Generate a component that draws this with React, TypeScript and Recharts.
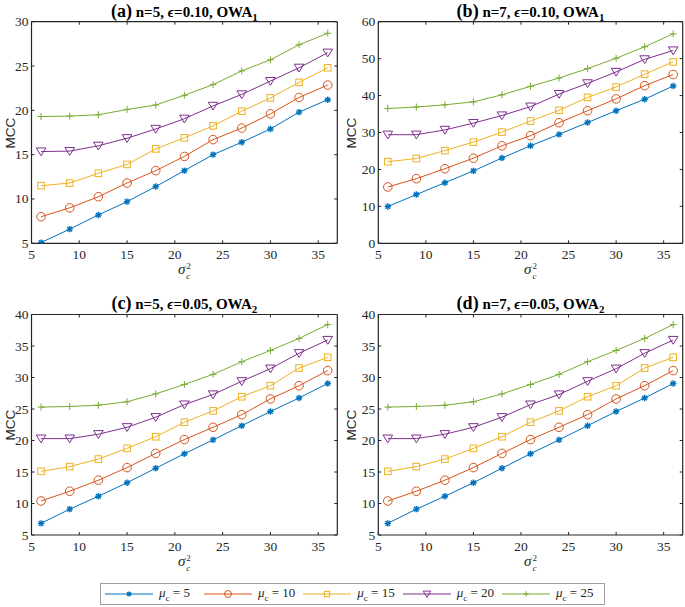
import React from 'react';
import { LineChart, Line, XAxis, YAxis } from 'recharts';

const SIGMA_C2 = [6, 9, 12, 15, 18, 21, 24, 27, 30, 33, 36];
const X_TICKS = [5, 10, 15, 20, 25, 30, 35];
const MU_LABELS = ['5', '10', '15', '20', '25'];

// Panel (a): n=5, eps=0.10, OWA1
const A_MU5 = [5.08, 6.6, 8.2, 9.7, 11.4, 13.2, 15.0, 16.4, 17.9, 19.8, 21.2];
const A_MU10 = [8.0, 9.0, 10.25, 11.8, 13.2, 14.8, 16.7, 18.0, 19.6, 21.45, 22.85];
const A_MU15 = [11.5, 11.8, 12.9, 13.9, 15.65, 16.9, 18.25, 19.9, 21.4, 23.15, 24.8];
const A_MU20 = [15.35, 15.4, 16.0, 16.85, 17.9, 19.05, 20.5, 21.8, 23.3, 24.8, 26.5];
const A_MU25 = [19.3, 19.35, 19.5, 20.1, 20.6, 21.7, 22.9, 24.45, 25.7, 27.4, 28.7];

// Panel (b): n=7, eps=0.10, OWA1
const B_MU5 = [9.95, 13.2, 16.4, 19.6, 23.1, 26.4, 29.5, 32.7, 35.9, 39.0, 42.6];
const B_MU10 = [15.25, 17.5, 20.2, 23.05, 26.4, 29.15, 32.65, 35.9, 39.1, 42.7, 45.7];
const B_MU15 = [22.1, 22.95, 25.1, 27.4, 30.1, 33.1, 36.0, 39.5, 42.3, 45.8, 49.1];
const B_MU20 = [29.4, 29.4, 30.7, 32.55, 34.6, 37.0, 40.4, 43.3, 46.4, 49.8, 52.2];
const B_MU25 = [36.5, 36.9, 37.5, 38.3, 40.2, 42.5, 44.75, 47.3, 50.1, 53.2, 56.7];

// Panel (c): n=5, eps=0.05, OWA2
const C_MU5 = [6.85, 9.1, 11.15, 13.3, 15.6, 17.9, 20.1, 22.35, 24.6, 26.75, 29.05];
const C_MU10 = [10.4, 11.95, 13.7, 15.7, 17.95, 20.15, 22.1, 24.1, 26.6, 28.7, 31.1];
const C_MU15 = [15.1, 15.85, 17.05, 18.75, 20.6, 22.9, 24.7, 26.95, 28.7, 31.5, 33.2];
const C_MU20 = [20.3, 20.3, 21.0, 22.1, 23.7, 25.7, 27.3, 29.4, 31.4, 33.85, 35.95];
const C_MU25 = [25.3, 25.4, 25.6, 26.15, 27.4, 28.9, 30.5, 32.5, 34.3, 36.2, 38.4];

// Panel (d): n=7, eps=0.05, OWA2
const D_MU5 = [6.85, 9.1, 11.15, 13.3, 15.6, 17.9, 20.1, 22.35, 24.6, 26.75, 29.05];
const D_MU10 = [10.4, 11.95, 13.7, 15.7, 17.95, 20.15, 22.1, 24.1, 26.6, 28.7, 31.1];
const D_MU15 = [15.1, 15.85, 17.05, 18.75, 20.6, 22.9, 24.7, 26.95, 28.7, 31.5, 33.2];
const D_MU20 = [20.3, 20.3, 21.0, 22.1, 23.7, 25.7, 27.3, 29.4, 31.4, 33.85, 35.95];
const D_MU25 = [25.3, 25.4, 25.6, 26.15, 27.4, 28.9, 30.5, 32.5, 34.3, 36.2, 38.4];

const A_Y_TICKS = [5, 10, 15, 20, 25, 30];
const B_Y_TICKS = [0, 10, 20, 30, 40, 50, 60];
const C_Y_TICKS = [5, 10, 15, 20, 25, 30, 35, 40];

const SERIES = [
  { key: 'm5', color: '#0072BD', marker: 'star' },
  { key: 'm10', color: '#D95319', marker: 'circle' },
  { key: 'm15', color: '#EDB120', marker: 'square' },
  { key: 'm20', color: '#7E2F8E', marker: 'tri' },
  { key: 'm25', color: '#77AC30', marker: 'plus' },
];

const AXIS = '#262626';
const SERIF = '"Liberation Serif", "Times New Roman", serif';

function buildRows(cols: number[][]) {
  return SIGMA_C2.map((s, i) => ({
    s,
    m5: cols[0][i],
    m10: cols[1][i],
    m15: cols[2][i],
    m20: cols[3][i],
    m25: cols[4][i],
  }));
}

function Marker({ type, cx, cy, color, k = 1 }: { type: string; cx: number; cy: number; color: string; k?: number }) {
  if (cx == null || cy == null) return <g />;
  switch (type) {
    case 'star': {
      const r = 3.2 * k;
      const d = r * 0.72;
      return (
        <g stroke={color} strokeWidth={1.4}>
          <line x1={cx - r} y1={cy} x2={cx + r} y2={cy} />
          <line x1={cx} y1={cy - r} x2={cx} y2={cy + r} />
          <line x1={cx - d} y1={cy - d} x2={cx + d} y2={cy + d} />
          <line x1={cx - d} y1={cy + d} x2={cx + d} y2={cy - d} />
        </g>
      );
    }
    case 'circle':
      return <circle cx={cx} cy={cy} r={4.3 * k} fill="none" stroke={color} strokeWidth={1} />;
    case 'square': {
      const h = 3.3 * k;
      return <rect x={cx - h} y={cy - h} width={2 * h} height={2 * h} fill="none" stroke={color} strokeWidth={1} />;
    }
    case 'tri':
      return (
        <polygon
          points={`${cx - 4.8 * k},${cy - 3.6 * k} ${cx + 4.8 * k},${cy - 3.6 * k} ${cx},${cy + 4.2 * k}`}
          fill="none"
          stroke={color}
          strokeWidth={1}
        />
      );
    case 'plus':
    default: {
      const r = 3.5 * k;
      return (
        <g stroke={color} strokeWidth={1}>
          <line x1={cx - r} y1={cy} x2={cx + r} y2={cy} />
          <line x1={cx} y1={cy - r} x2={cx} y2={cy + r} />
        </g>
      );
    }
  }
}

const BottomTick = (props: any) => {
  const { x, y, payload } = props;
  return (
    <g>
      <line x1={x} x2={x} y1={y} y2={y - 3} stroke={AXIS} strokeWidth={1} />
      <text x={x} y={y + 16} textAnchor="middle" fontFamily={SERIF} fontSize={13.5} fill={AXIS}>
        {payload.value}
      </text>
    </g>
  );
};
const TopTick = (props: any) => {
  const { x, y } = props;
  return <line x1={x} x2={x} y1={y} y2={y + 3} stroke={AXIS} strokeWidth={1} />;
};
const LeftTick = (props: any) => {
  const { x, y, payload } = props;
  return (
    <g>
      <line x1={x} x2={x + 3} y1={y} y2={y} stroke={AXIS} strokeWidth={1} />
      <text x={x - 3} y={y + 4.5} textAnchor="end" fontFamily={SERIF} fontSize={13.5} fill={AXIS}>
        {payload.value}
      </text>
    </g>
  );
};
const RightTick = (props: any) => {
  const { x, y } = props;
  return <line x1={x} x2={x - 3} y1={y} y2={y} stroke={AXIS} strokeWidth={1} />;
};

type PanelProps = {
  x: number; y: number; w: number; h: number;
  pl: number; pt: number; pr: number; pb: number;
  data: any[]; yDomain: [number, number]; yTicks: number[];
  letter: string; n: number; eps: string; sub: string; mccX: number;
};

function Panel(p: PanelProps) {
  const margin = {
    top: p.pt - p.y - 1,
    left: p.pl - p.x - 1,
    right: p.x + p.w - p.pr - 1,
    bottom: p.y + p.h - p.pb - 1,
  };
  const plotW = p.pr - p.pl;
  return (
    <>
      <div style={{ position: 'absolute', left: p.x, top: p.y, width: p.w, height: p.h }}>
        <LineChart width={p.w} height={p.h} data={p.data} margin={margin}>
          <XAxis
            xAxisId="b" dataKey="s" type="number" domain={[5, 37]} ticks={X_TICKS}
            orientation="bottom" height={1} tickSize={0} tickMargin={0} tickLine={false}
            axisLine={{ stroke: AXIS, strokeWidth: 1.2 }} tick={<BottomTick />} interval={0} allowDataOverflow
          />
          <XAxis
            xAxisId="t" dataKey="s" type="number" domain={[5, 37]} ticks={X_TICKS}
            orientation="top" height={1} tickSize={0} tickMargin={0} tickLine={false}
            axisLine={{ stroke: AXIS, strokeWidth: 1.2 }} tick={<TopTick />} interval={0} allowDataOverflow
          />
          <YAxis
            yAxisId="l" type="number" domain={p.yDomain} ticks={p.yTicks} orientation="left"
            width={1} tickSize={0} tickMargin={0} tickLine={false}
            axisLine={{ stroke: AXIS, strokeWidth: 1.2 }} tick={<LeftTick />} interval={0} allowDataOverflow
          />
          <YAxis
            yAxisId="r" type="number" domain={p.yDomain} ticks={p.yTicks} orientation="right"
            width={1} tickSize={0} tickMargin={0} tickLine={false}
            axisLine={{ stroke: AXIS, strokeWidth: 1.2 }} tick={<RightTick />} interval={0} allowDataOverflow
          />
          {SERIES.map((s) => (
            <Line
              key={s.key}
              xAxisId="b"
              yAxisId="l"
              dataKey={s.key}
              stroke={s.color}
              strokeWidth={1}
              isAnimationActive={false}
              activeDot={false}
              dot={(dp: any) => (
                <Marker key={`${s.key}-${dp.index}`} type={s.marker} cx={dp.cx} cy={dp.cy} color={s.color} />
              )}
            />
          ))}
        </LineChart>
      </div>
      <div
        style={{
          position: 'absolute', left: p.pl - 20, top: Math.max(1, p.pt - 22), width: plotW + 40, height: 20, lineHeight: '20px',
          textAlign: 'center', fontFamily: SERIF, fontWeight: 'bold', fontSize: 15, color: '#000', whiteSpace: 'nowrap',
        }}
      >
        <span style={{ fontSize: 18 }}>({p.letter})</span> n={p.n}, <span style={{ fontStyle: 'italic' }}>ϵ</span>={p.eps}, OWA
        <span style={{ fontSize: 11, position: 'relative', top: 4 }}>{p.sub}</span>
      </div>
      <div
        style={{
          position: 'absolute', left: p.pl, top: p.pb + 15, width: plotW, height: 22, textAlign: 'center',
          fontFamily: SERIF, fontSize: 15, color: AXIS, whiteSpace: 'nowrap', lineHeight: '22px',
        }}
      >
        <span style={{ fontStyle: 'italic' }}>σ</span>
        <span style={{ display: 'inline-block', verticalAlign: 'middle', fontSize: 9, textAlign: 'left', marginLeft: 1 }}>
          <span style={{ display: 'block', lineHeight: '10px' }}>2</span>
          <span style={{ display: 'block', lineHeight: '10px', fontStyle: 'italic' }}>c</span>
        </span>
      </div>
      <div
        style={{
          position: 'absolute', left: p.mccX - 30, top: (p.pt + p.pb) / 2 - 9, width: 60, height: 18, lineHeight: '18px',
          textAlign: 'center', transform: 'rotate(-90deg)', fontFamily: '"Liberation Sans", Arial, sans-serif',
          fontSize: 13.5, color: AXIS,
        }}
      >
        MCC
      </div>
    </>
  );
}

function LegendMarker({ type, color }: { type: string; color: string }) {
  return (
    <svg width={48} height={14} style={{ display: 'block' }}>
      <line x1={0} x2={48} y1={7} y2={7} stroke={color} strokeWidth={1} />
      <Marker type={type} cx={24} cy={7} color={color} k={0.8} />
    </svg>
  );
}

export default function App() {
  const dataA = buildRows([A_MU5, A_MU10, A_MU15, A_MU20, A_MU25]);
  const dataB = buildRows([B_MU5, B_MU10, B_MU15, B_MU20, B_MU25]);
  const dataC = buildRows([C_MU5, C_MU10, C_MU15, C_MU20, C_MU25]);
  const dataD = buildRows([D_MU5, D_MU10, D_MU15, D_MU20, D_MU25]);
  return (
    <div style={{ position: 'absolute', left: 0, top: 0, width: 685, height: 607, background: '#fff', overflow: 'hidden' }}>
      <Panel x={0} y={0} w={340} h={285} pl={31.5} pt={21.7} pr={337.3} pb={243.3}
        data={dataA} yDomain={[5, 30]} yTicks={A_Y_TICKS} letter="a" n={5} eps="0.10" sub="1" mccX={11} />
      <Panel x={340} y={0} w={345} h={285} pl={378.3} pt={21.7} pr={682.7} pb={243.3}
        data={dataB} yDomain={[0, 60]} yTicks={B_Y_TICKS} letter="b" n={7} eps="0.10" sub="1" mccX={352} />
      <Panel x={0} y={290} w={340} h={285} pl={31.5} pt={314.5} pr={337.3} pb={535}
        data={dataC} yDomain={[5, 40]} yTicks={C_Y_TICKS} letter="c" n={5} eps="0.05" sub="2" mccX={11} />
      <Panel x={340} y={290} w={345} h={285} pl={378.3} pt={314.5} pr={682.7} pb={535}
        data={dataD} yDomain={[5, 40]} yTicks={C_Y_TICKS} letter="d" n={7} eps="0.05" sub="2" mccX={352} />
      <div
        style={{
          position: 'absolute', left: 100, top: 583, width: 505, height: 22, boxSizing: 'border-box',
          border: '1px solid #a0a0a0', display: 'flex', alignItems: 'center', paddingLeft: 4,
          fontFamily: SERIF, fontSize: 13, color: AXIS, whiteSpace: 'nowrap',
        }}
      >
        {SERIES.map((s, i) => (
          <div key={s.key} style={{ display: 'flex', alignItems: 'center', marginRight: i === 0 ? 14 : 8 }}>
            <LegendMarker type={s.marker} color={s.color} />
            <span style={{ marginLeft: 6 }}>
              <span style={{ fontStyle: 'italic' }}>μ</span>
              <sub style={{ fontSize: 9 }}>c</sub> = {MU_LABELS[i]}
            </span>
          </div>
        ))}
      </div>
    </div>
  );
}
